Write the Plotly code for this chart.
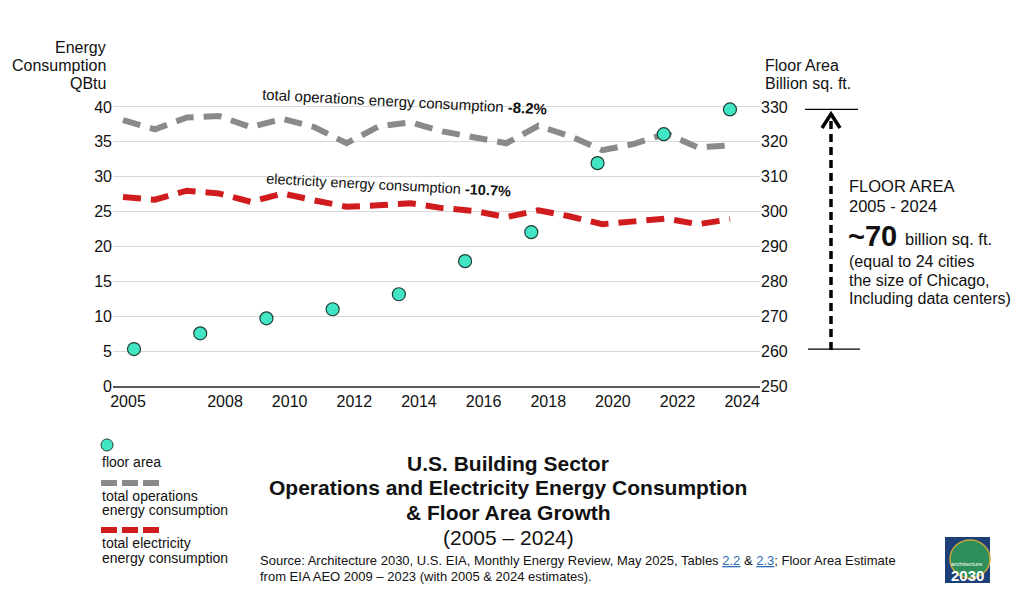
import plotly.graph_objects as go

# energy consumption (QBtu), one value per year
years = list(range(2005, 2025))
total_ops = [38.1, 36.8, 38.5, 38.7, 37.1, 38.3, 37.1, 34.8, 37.2, 37.8,
             36.5, 35.7, 34.8, 37.3, 35.8, 33.8, 34.7, 36.2, 34.2, 34.5]
electricity = [27.1, 26.7, 28.0, 27.6, 26.4, 27.6, 26.6, 25.7, 25.9, 26.2,
               25.5, 25.1, 24.2, 25.2, 24.3, 23.2, 23.6, 24.0, 23.2, 23.9]

# floor area (billion sq. ft.)
floor_years = [2005, 2007, 2009, 2011, 2013, 2015, 2017, 2019, 2021, 2023]
floor_area = [260.6, 265.1, 269.4, 272.0, 276.3, 285.8, 294.1, 313.9, 322.2, 329.3]

x_ticks = [2005, 2008, 2010, 2012, 2014, 2016, 2018, 2020, 2022, 2024]
left_ticks = [0, 5, 10, 15, 20, 25, 30, 35, 40]
right_ticks = [250, 260, 270, 280, 290, 300, 310, 320, 330]

FONT = "Liberation Sans, Arial, sans-serif"
GRAY = "#8a8a8a"
RED = "#d01c1f"
TEAL = "#42e6c4"

# page has an 8px body margin, so the figure is a bit smaller than the window
OFF = 8
W, H = 1016, 595
# plot area edges in screen pixels: left 113, right 760, top 100, bottom 386
L, T = 113 - OFF, 100 - OFF
R, B = W - (760 - OFF), H - (386 - OFF)
PW, PH = W - L - R, H - T - B


def px(x):  # screen pixel -> paper
    return (x - OFF - L) / PW


def py(y):
    return (H - B - (y - OFF)) / PH


fig = go.Figure()

fig.add_trace(go.Scatter(
    x=years, y=total_ops, mode="lines", name="total operations",
    line=dict(color=GRAY, width=6, dash="18px,10px"),
))
fig.add_trace(go.Scatter(
    x=years, y=electricity, mode="lines", name="electricity",
    line=dict(color=RED, width=6, dash="18px,10px"),
))
fig.add_trace(go.Scatter(
    x=floor_years, y=floor_area, mode="markers", name="floor area",
    xaxis="x2", yaxis="y2",
    marker=dict(size=13, color=TEAL, line=dict(color="#1f3d36", width=1.2)),
))
# the year labels sit on their own (slightly wider spaced) axis, like the original
fig.add_trace(go.Scatter(x=x_ticks, y=[None] * len(x_ticks), xaxis="x3",
                         mode="lines", hoverinfo="skip", showlegend=False))


def ann(text, x, y, size, xanchor="left", angle=0, color="#111111"):
    return dict(text=text, x=px(x), y=py(y), xref="paper", yref="paper",
                xanchor=xanchor, yanchor="middle", showarrow=False,
                textangle=angle, font=dict(family=FONT, size=size, color=color))


def block(lines, x, ys, size, xanchor="left"):
    return [ann(t, x, y, size, xanchor=xanchor) for t, y in zip(lines, ys)]


annotations = []
annotations += block(["Energy", "Consumption", "QBtu"], 108, [48, 66, 83], 16, "right")
annotations += block(["Floor Area", "Billion sq. ft."], 763, [66, 84], 16)
annotations += [
    ann("total operations energy consumption <b>-8.2%</b>", 404, 101, 15,
        xanchor="center", angle=3),
    ann("electricity energy consumption <b>-10.7%</b>", 388, 185, 14.5,
        xanchor="center", angle=3),
    ann("<b>~70</b>", 846, 236, 29),
    ann("billion sq. ft.", 903, 239, 16.5),
]
annotations += block(["FLOOR AREA", "2005 - 2024"], 847, [186, 206], 16.5)
annotations += block(["(equal to 24 cities", "the size of Chicago,", "Including data centers)"],
                     847, [261, 280, 298], 16)
annotations += block(["floor area"], 100, [462], 14)
annotations += block(["total operations", "energy consumption"], 100, [496, 510], 14)
annotations += block(["total electricity", "energy consumption"], 100, [543, 558], 14)
annotations += block(["<b>U.S. Building Sector</b>",
                      "<b>Operations and Electricity Energy Consumption</b>",
                      "<b>&amp; Floor Area Growth</b>",
                      "(2005 – 2024)"], 508, [463, 487, 512, 537], 21, "center")
annotations += block(["Source: Architecture 2030, U.S. EIA, Monthly Energy Review, May 2025, Tables "
                      "<span style='color:#2e6db4'><u>2.2</u></span> &amp; "
                      "<span style='color:#2e6db4'><u>2.3</u></span>; Floor Area Estimate",
                      "from EIA AEO 2009 – 2023 (with 2005 &amp; 2024 estimates)."],
                     258, [560, 576], 13)
annotations += [
    ann("architecture", 967, 564, 6, xanchor="center", color="white"),
    ann("<b>2030</b>", 967, 575, 15, xanchor="center", color="white"),
]

shapes = [
    # floor area growth bracket
    dict(type="line", xref="paper", yref="y2", x0=px(805), x1=px(858),
         y0=floor_area[-1], y1=floor_area[-1], line=dict(color="black", width=1.2)),
    dict(type="line", xref="paper", yref="y2", x0=px(808), x1=px(860),
         y0=floor_area[0], y1=floor_area[0], line=dict(color="black", width=1.2)),
    dict(type="line", xref="paper", yref="paper", x0=px(831), x1=px(831),
         y0=py(350), y1=py(117), line=dict(color="black", width=3.5, dash="8px,5px")),
    dict(type="path", xref="paper", yref="paper",
         path=f"M {px(822)} {py(128)} L {px(831)} {py(114)} L {px(840)} {py(128)}",
         line=dict(color="black", width=3.5)),
    # legend marks
    dict(type="circle", xref="paper", yref="paper", x0=px(101), x1=px(113),
         y0=py(451), y1=py(439), fillcolor=TEAL, line=dict(color="#1f3d36", width=1)),
    dict(type="line", xref="paper", yref="paper", x0=px(101), x1=px(159),
         y0=py(483), y1=py(483), line=dict(color=GRAY, width=6, dash="16px,5px")),
    dict(type="line", xref="paper", yref="paper", x0=px(101), x1=px(159),
         y0=py(530), y1=py(530), line=dict(color=RED, width=6, dash="16px,5px")),
    # logo
    dict(type="rect", xref="paper", yref="paper", x0=px(945), x1=px(990),
         y0=py(583), y1=py(537), fillcolor="#1c3f78", line=dict(width=0), layer="above"),
    dict(type="circle", xref="paper", yref="paper", x0=px(950), x1=px(990),
         y0=py(578), y1=py(540), fillcolor="#2f8f5a", line=dict(color="#c9a63a", width=1.5),
         layer="above"),
]

fig.update_layout(
    width=W, height=H,
    margin=dict(l=L, r=R, t=T, b=B),
    paper_bgcolor="white", plot_bgcolor="white",
    showlegend=False,
    font=dict(family=FONT, color="#111111"),
    xaxis=dict(range=[2004.687, 2024.94], showticklabels=False, showgrid=False,
               zeroline=False, showline=True, linecolor="#5a5a5a", linewidth=1.5, ticks=""),
    xaxis2=dict(range=[2004.366, 2023.907], overlaying="x", visible=False),
    xaxis3=dict(range=[2004.536, 2024.55], overlaying="x", side="bottom", anchor="y",
                tickvals=x_ticks, showgrid=False, zeroline=False, showline=False,
                tickfont=dict(size=16), ticks="", ticklabelstandoff=4),
    yaxis=dict(range=[0, 41], tickvals=left_ticks, showgrid=True, gridcolor="#d9d9d9",
               gridwidth=1, zeroline=False, tickfont=dict(size=16), ticks=""),
    yaxis2=dict(range=[250, 332], tickvals=right_ticks, overlaying="y", side="right",
                anchor="x2", showgrid=False, zeroline=False, tickfont=dict(size=16), ticks=""),
    annotations=annotations,
    shapes=shapes,
)

fig.write_html("out.html")
